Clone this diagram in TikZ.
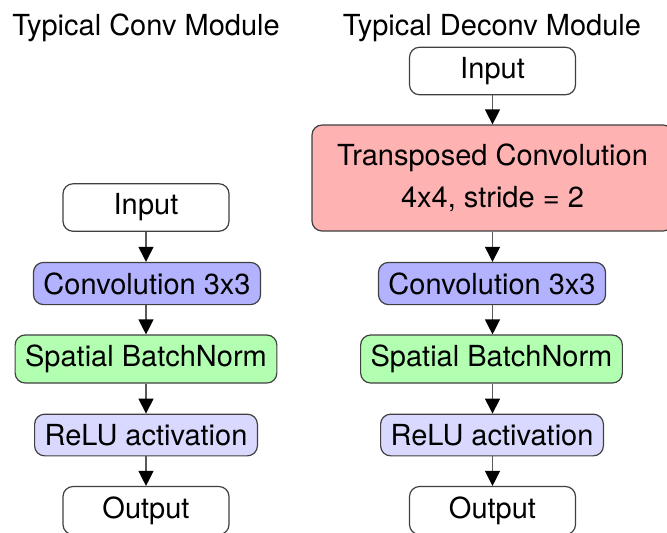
\documentclass[tikz,border=0pt]{standalone}
\usepackage{fontspec}
\setmainfont{TeX Gyre Heros}
\usetikzlibrary{arrows.meta}
\begin{document}
\begin{tikzpicture}[x=0.5pt,y=-0.5pt,
  every node/.style={font=\fontsize{14.5pt}{17.5pt}\selectfont},
  box/.style={draw=black!75, line width=0.6pt, rounded corners=5pt, inner xsep=5pt, inner ysep=5pt},
  plain/.style={box, fill=white, minimum width=83pt},
  convbox/.style={box, fill=blue!30},
  bnbox/.style={box, fill=green!30},
  relubox/.style={box, fill=blue!15},
  transbox/.style={box, fill=red!30, minimum width=180.5pt, minimum height=53pt, align=center},
  title/.style={anchor=base},
  arr/.style={draw=black!65, line width=0.6pt, -{Triangle[width=7.5pt,length=7.5pt,black]}}
]
\useasboundingbox (0,0) rectangle (667,532);

\node[title] (t1) at (146,35) {Typical Conv Module};
\node[title] (t2) at (492,35) {Typical Deconv Module};

% left column
\node[plain]   (lin)  at (146,207.5) {Input};
\node[convbox] (lconv) at (147,283.5) {Convolution 3x3};
\node[bnbox]   (lbn)  at (146,359) {Spatial BatchNorm};
\node[relubox] (lrelu) at (146,435) {ReLU activation};
\node[plain]   (lout) at (146,510.5) {Output};

% right column
\node[plain]    (rin)   at (492.5,71) {Input};
\node[transbox] (rtr)   at (492.5,178) {Transposed Convolution\\[3.5pt]4x4, stride = 2};
\node[convbox]  (rconv) at (492,283.5) {Convolution 3x3};
\node[bnbox]    (rbn)   at (491.5,359) {Spatial BatchNorm};
\node[relubox]  (rrelu) at (492,435) {ReLU activation};
\node[plain]    (rout)  at (492.5,510.5) {Output};

\draw[arr] (lin) -- (lconv.north -| lin);
\draw[arr] (lconv.south -| lin) -- (lbn.north -| lin);
\draw[arr] (lbn.south -| lin) -- (lrelu.north -| lin);
\draw[arr] (lrelu.south -| lin) -- (lout);

\draw[arr] (rin) -- (rtr.north -| rin);
\draw[arr] (rtr.south -| rin) -- (rconv.north -| rin);
\draw[arr] (rconv.south -| rin) -- (rbn.north -| rin);
\draw[arr] (rbn.south -| rin) -- (rrelu.north -| rin);
\draw[arr] (rrelu.south -| rin) -- (rout);
\end{tikzpicture}
\end{document}
